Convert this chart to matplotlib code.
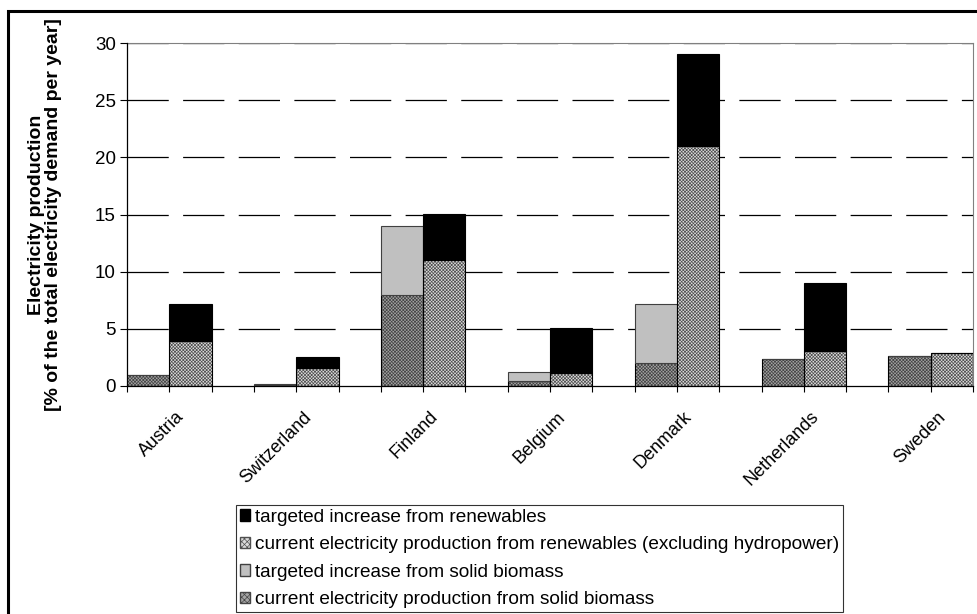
import matplotlib.pyplot as plt
from matplotlib.patches import Patch, Rectangle

countries = ['Austria', 'Switzerland', 'Finland', 'Belgium', 'Denmark', 'Netherlands', 'Sweden']

# left bar of each country (solid biomass)
current_biomass = [1.0, 0.1, 8.0, 0.45, 2.0, 2.35, 2.6]
target_biomass = [0.0, 0.05, 6.0, 0.8, 5.2, 0.0, 0.0]
# right bar of each country (all renewables excl. hydropower)
current_renew = [3.9, 1.6, 11.0, 1.15, 21.0, 3.1, 2.85]
target_renew = [3.25, 0.95, 4.0, 3.9, 8.0, 5.95, 0.0]

legend_labels = ['targeted increase from renewables',
                 'current electricity production from renewables (excluding hydropower)',
                 'targeted increase from solid biomass',
                 'current electricity production from solid biomass']

plt.rcParams['font.family'] = ['Liberation Sans', 'DejaVu Sans']
plt.rcParams['hatch.linewidth'] = 0.5

fig = plt.figure(figsize=(9.77, 6.14), dpi=100)
ax = fig.add_axes([127/977, 1-386/614, 846/977, 343/614])

xa = [3*i for i in range(len(countries))]
xb = [3*i + 1 for i in range(len(countries))]

renew_face, renew_hatch = '#dcdcdc', '#505050'
bio_face, bio_hatch = '#a4a4a4', '#454545'
hatch = 'x' * 10

# hatched parts: fill first, then outline on top
ax.bar(xa, current_biomass, width=1, align='edge', color=bio_face, edgecolor=bio_hatch,
       hatch=hatch, linewidth=0, zorder=3)
ax.bar(xa, current_biomass, width=1, align='edge', fill=False, edgecolor='black',
       linewidth=0.8, zorder=4)
ax.bar(xa, target_biomass, bottom=current_biomass, width=1, align='edge', color='#c0c0c0',
       edgecolor='#404040', linewidth=0.8, zorder=4)

ax.bar(xb, current_renew, width=1, align='edge', color=renew_face, edgecolor=renew_hatch,
       hatch=hatch, linewidth=0, zorder=3)
ax.bar(xb, current_renew, width=1, align='edge', fill=False, edgecolor='black',
       linewidth=0.8, zorder=4)
ax.bar(xb, target_renew, bottom=current_renew, width=1, align='edge', color='black',
       edgecolor='black', linewidth=0.8, zorder=4)

ax.set_xlim(0, 20)
ax.set_ylim(0, 30)
ax.set_yticks(range(0, 31, 5))
ax.set_xticks(range(0, 21))
ax.set_xticklabels([])
ax.tick_params(axis='y', direction='out', length=5, width=0.8, labelsize=13.5, pad=3)
ax.tick_params(axis='x', direction='out', length=4.5, width=0.8)

for y in range(5, 31, 5):
    ax.axhline(y, color='black', linewidth=0.9, dashes=(33, 11.5), zorder=2)

for s in ['top', 'right']:
    ax.spines[s].set_color('#808080')
    ax.spines[s].set_linewidth(0.8)
for s in ['left', 'bottom']:
    ax.spines[s].set_linewidth(0.9)
    ax.spines[s].set_zorder(5)

for i, name in enumerate(countries):
    ax.text(3*i + 1.15, -0.065, name, transform=ax.get_xaxis_transform(), rotation=45,
            ha='right', va='top', rotation_mode='anchor', fontsize=13)

ax.set_ylabel('Electricity production\n[% of the total electricity demand per year]',
              fontsize=14, fontweight='bold', labelpad=24, linespacing=0.95)

handles = [Patch(facecolor='black', edgecolor='black'),
           Patch(facecolor=renew_face, edgecolor=renew_hatch, hatch='x' * 6),
           Patch(facecolor='#c0c0c0', edgecolor='#404040'),
           Patch(facecolor=bio_face, edgecolor=bio_hatch, hatch='x' * 6)]
leg = fig.legend(handles, legend_labels, loc='upper left', bbox_to_anchor=(236/977, 1-505/614),
                 borderaxespad=0, fontsize=13.7, frameon=True, fancybox=False,
                 handlelength=0.55, handleheight=0.55, handletextpad=0.25, labelspacing=0.55,
                 borderpad=0.2)
leg.get_frame().set_edgecolor('black')
leg.get_frame().set_linewidth(0.8)

# outer frame of the picture, running off the right and bottom edge
fig.patches.append(Rectangle((8/977, -0.1), 1.2, 1.1 - 11/614, transform=fig.transFigure,
                             fill=False, edgecolor='black', linewidth=2.2))

fig.savefig('out.png', dpi=100)
